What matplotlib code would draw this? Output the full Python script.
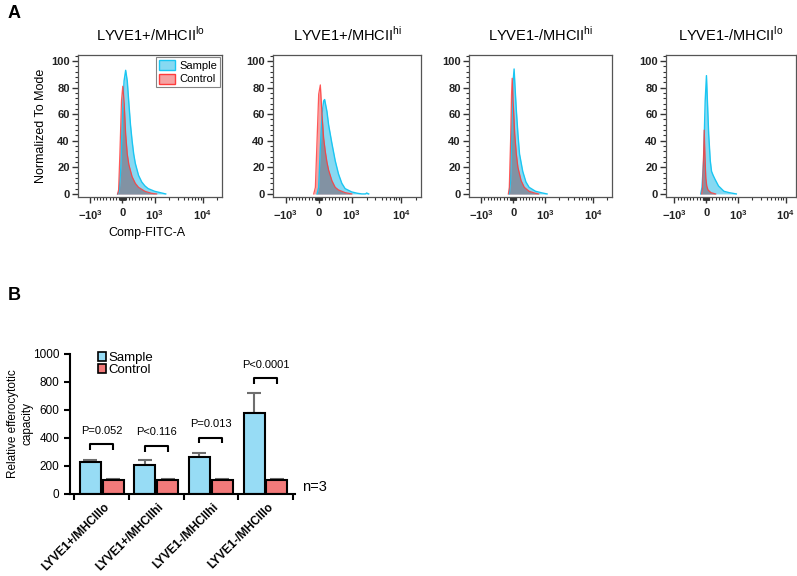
import numpy as np
import matplotlib
matplotlib.use("Agg")
import matplotlib.pyplot as plt
from matplotlib.patches import Patch
from matplotlib.ticker import FixedLocator, MultipleLocator, NullFormatter

plt.rcParams['font.family'] = ['Liberation Sans', 'DejaVu Sans']

# ---------------- Panel A data (FITC value, normalized-to-mode) ----------------
titles = ["LYVE1+/MHCII$^{\\mathregular{lo}}$", "LYVE1+/MHCII$^{\\mathregular{hi}}$",
          "LYVE1-/MHCII$^{\\mathregular{hi}}$", "LYVE1-/MHCII$^{\\mathregular{lo}}$"]

s1_x = [-150, -100, -50, 0, 50, 100, 150, 200, 250, 300, 350, 400, 500, 600, 700, 800, 1000, 1300, 1700]
s1_y = [0, 2, 20, 60, 85, 93, 85, 68, 52, 40, 30, 23, 14, 9, 6, 4, 2, 1, 0]
c1_x = [-150, -120, -80, -30, 10, 50, 100, 150, 200, 300, 400, 500, 700, 900, 1100]
c1_y = [0, 3, 30, 70, 81, 70, 45, 30, 22, 13, 8, 5, 2, 0.5, 0]

s2_x = [-50, 0, 50, 100, 150, 180, 250, 300, 400, 500, 600, 700, 800, 1000, 1300, 1600, 1900, 2000, 2200]
s2_y = [0, 5, 35, 60, 70, 71, 62, 52, 38, 25, 15, 8, 4, 1.5, 0.5, 0, 0, 0.7, 0]
c2_x = [-150, -100, -50, 0, 50, 100, 150, 200, 250, 300, 400, 500, 600, 800, 1000]
c2_y = [0, 5, 40, 75, 82, 60, 42, 32, 24, 18, 10, 5, 3, 1, 0]

s3_x = [-120, -80, -40, 0, 30, 60, 100, 150, 200, 300, 400, 500, 700, 900, 1100]
s3_y = [0, 10, 50, 85, 94, 80, 63, 45, 30, 17, 9, 5, 2, 0.8, 0]
c3_x = [-150, -120, -80, -50, -30, 0, 50, 100, 150, 250, 350, 500, 700, 800]
c3_y = [0, 5, 40, 75, 87, 70, 45, 30, 20, 10, 5, 2, 0.5, 0]

s4_x = [-170, -130, -80, -30, 10, 40, 80, 130, 170, 220, 280, 390, 560, 720, 950]
s4_y = [0, 5, 25, 70, 89, 70, 45, 25, 17, 14, 11, 6, 2, 1, 0]
c4_x = [-140, -110, -80, -60, -40, -10, 20, 60, 150, 300]
c4_y = [0, 5, 30, 48, 30, 12, 6, 3, 1, 0]

sample_curves = [(s1_x, s1_y), (s2_x, s2_y), (s3_x, s3_y), (s4_x, s4_y)]
control_curves = [(c1_x, c1_y), (c2_x, c2_y), (c3_x, c3_y), (c4_x, c4_y)]

# ---------------- Panel B data ----------------
categories = ["LYVE1+/MHCIIlo", "LYVE1+/MHCIIhi", "LYVE1-/MHCIIhi", "LYVE1-/MHCIIlo"]
sample_vals = [230, 210, 265, 580]
sample_err = [15, 30, 30, 140]
control_vals = [100, 100, 100, 100]
control_err = [5, 5, 5, 5]
p_labels = ["P=0.052", "P<0.116", "P=0.013", "P<0.0001"]
bracket_tops = [355, 343, 402, 826]

W, H = 797, 576
fig = plt.figure(figsize=(W / 100, H / 100), dpi=100)


def ax_px(x0, y0, x1, y1):
    return fig.add_axes([x0 / W, 1 - y1 / H, (x1 - x0) / W, (y1 - y0) / H])


samp_fill = np.array([0.53, 0.85, 0.95])
ctrl_fill = np.array([0.96, 0.64, 0.64])
over_fill = samp_fill * ctrl_fill * np.array([1.0, 1.05, 1.05])
samp_line = '#1ac6f2'
ctrl_line = '#ff3c3c'

boxes = [(78, 55, 222, 197), (273, 55, 421, 197), (469, 55, 612, 197), (666, 55, 796, 197)]
xlims = [(-1800, 25000), (-1800, 25000), (-1800, 25000), (-1500, 16600)]

minor_x = ([-v for v in range(10, 100, 10)] + list(range(10, 100, 10)) +
           [-v for v in range(100, 1000, 100)] + list(range(100, 1000, 100)) +
           list(range(2000, 10000, 1000)) + [20000])

for i, box in enumerate(boxes):
    ax = ax_px(*box)
    ax.set_xscale('symlog', linthresh=1000, linscale=0.6)
    sx, sy = np.array(sample_curves[i][0], float), np.array(sample_curves[i][1], float)
    cx, cy = np.array(control_curves[i][0], float), np.array(control_curves[i][1], float)
    ax.fill_between(sx, sy, color=samp_fill, lw=0, zorder=1)
    ax.fill_between(cx, cy, color=ctrl_fill, lw=0, zorder=2)
    grid = np.union1d(sx, cx)
    ov = np.minimum(np.interp(grid, sx, sy, left=0, right=0), np.interp(grid, cx, cy, left=0, right=0))
    ax.fill_between(grid, ov, color=np.clip(over_fill, 0, 1), lw=0, zorder=3)
    ax.plot(sx, sy, color=samp_line, lw=1.0, zorder=4)
    ax.plot(cx, cy, color=ctrl_line, lw=0.9, zorder=5, alpha=0.85)
    ax.set_xlim(*xlims[i])
    ax.set_ylim(-2.3, 104.5)
    ax.xaxis.set_major_locator(FixedLocator([-1000, 0, 1000, 10000]))
    ax.set_xticklabels(["$\\mathregular{-10^3}$", "0", "$\\mathregular{10^3}$", "$\\mathregular{10^4}$"])
    ax.xaxis.set_minor_locator(FixedLocator(minor_x))
    ax.xaxis.set_minor_formatter(NullFormatter())
    ax.yaxis.set_major_locator(MultipleLocator(20))
    ax.yaxis.set_minor_locator(MultipleLocator(4))
    ax.tick_params(axis='both', which='major', length=4, width=1, labelsize=8, color='#333333', pad=2)
    ax.tick_params(axis='x', which='major', pad=4)
    ax.tick_params(axis='both', which='minor', length=2, width=0.8, color='#333333')
    for lab in ax.get_xticklabels() + ax.get_yticklabels():
        lab.set_fontweight('bold')
        lab.set_color('#222222')
    for sp in ax.spines.values():
        sp.set_color('#555555')
        sp.set_linewidth(0.9)
    ax.set_title(titles[i], fontsize=10.5, pad=10)
    if i == 0:
        ax.set_ylabel("Normalized To Mode", fontsize=9, labelpad=3)
        h = [Patch(facecolor=samp_fill, edgecolor=samp_line, lw=1),
             Patch(facecolor=ctrl_fill, edgecolor=ctrl_line, lw=1)]
        leg = ax.legend(h, ["Sample", "Control"], loc='upper right', fontsize=8,
                        frameon=True, fancybox=False, edgecolor='#666666',
                        handlelength=1.4, handleheight=1.0, borderpad=0.25,
                        labelspacing=0.25, handletextpad=0.4, borderaxespad=0.2)
        leg.get_frame().set_linewidth(0.8)

fig.text(147 / W, 1 - 233 / H, "Comp-FITC-A", fontsize=9, ha='center', va='center')
fig.text(8 / W, 1 - 14 / H, "A", fontsize=13, fontweight='bold', ha='left', va='center')
fig.text(8 / W, 1 - 296 / H, "B", fontsize=13, fontweight='bold', ha='left', va='center')

# ---------------- Panel B ----------------
axb = ax_px(70, 354, 295, 494)
xpos = np.arange(len(categories))
bw = 0.385
off = 0.21
samp_bar = '#97dcf5'
ctrl_bar = '#f27a7a'
axb.bar(xpos - off, sample_vals, bw, color=samp_bar, edgecolor='black', lw=1.5, zorder=2)
axb.bar(xpos + off, control_vals, bw, color=ctrl_bar, edgecolor='black', lw=1.5, zorder=2)
axb.errorbar(xpos - off, sample_vals, yerr=[np.zeros(4), sample_err], fmt='none',
             ecolor='#6e6e6e', elinewidth=1.5, capsize=5, capthick=1.5, zorder=1)
axb.errorbar(xpos + off, control_vals, yerr=[np.zeros(4), control_err], fmt='none',
             ecolor='#6e6e6e', elinewidth=1.5, capsize=5, capthick=1.5, zorder=1)
leg_h = 40
for i in range(len(categories)):
    x0, x1 = xpos[i] - off, xpos[i] + off
    t = bracket_tops[i]
    axb.plot([x0, x0, x1, x1], [t - leg_h, t, t, t - leg_h], color='black', lw=1.5,
             solid_capstyle='butt')
    axb.text(xpos[i], t + 62, p_labels[i], ha='center', va='bottom', fontsize=8)

axb.set_xlim(-0.58, 3.54)
axb.set_ylim(0, 1000)
axb.spines['top'].set_visible(False)
axb.spines['right'].set_visible(False)
for sp in ['left', 'bottom']:
    axb.spines[sp].set_linewidth(1.5)
axb.yaxis.set_major_locator(MultipleLocator(200))
axb.xaxis.set_major_locator(FixedLocator([-0.5, 0.5, 1.5, 2.5, 3.5]))
axb.xaxis.set_major_formatter(NullFormatter())
axb.xaxis.set_minor_locator(FixedLocator(xpos + 0.03))
axb.set_xticklabels(categories, minor=True, rotation=45, ha='right', va='top',
                    rotation_mode='anchor', fontsize=8.5, fontweight='bold')
axb.tick_params(axis='x', which='minor', length=0, pad=5)
axb.tick_params(axis='both', which='major', length=4, width=1.5, labelsize=8.5)
axb.set_ylabel("Relative efferocytotic\ncapacity", fontsize=8.5, labelpad=0)
lh = [Patch(facecolor=samp_bar, edgecolor='black', lw=1.2),
      Patch(facecolor=ctrl_bar, edgecolor='black', lw=1.2)]
axb.legend(lh, ["Sample", "Control"], loc='upper left', bbox_to_anchor=(0.1, 1.05),
           frameon=False, fontsize=9.5, handlelength=0.6, handleheight=0.6,
           handletextpad=0.2, labelspacing=0.0, borderaxespad=0)
fig.text(302 / W, 1 - 487 / H, "n=3", fontsize=10.5, ha='left', va='center')

fig.savefig("out.png", dpi=100)
